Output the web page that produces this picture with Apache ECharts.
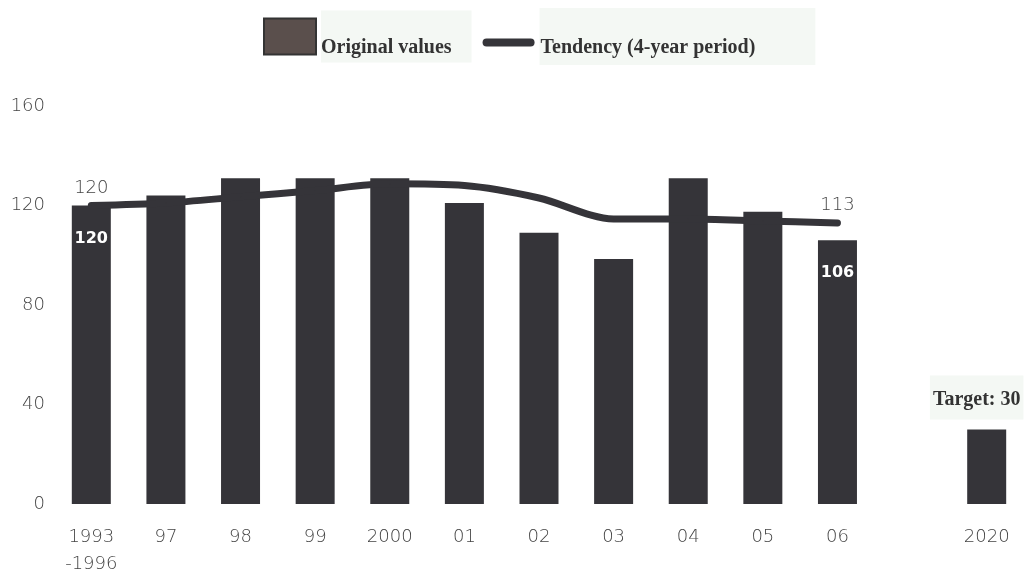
<!DOCTYPE html>
<html>
<head>
<meta charset="utf-8">
<script src="https://cdn.jsdelivr.net/npm/echarts@6/dist/echarts.min.js"></script>
<style>
  html, body { margin: 0; padding: 0; background: #fff; }
  #chart { width: 1024px; height: 572px; }
</style>
</head>
<body>
<div id="chart"></div>
<script>
// categories (one empty slot before the 2020 target)
var categories = ['1993\n-1996', '97', '98', '99', '2000', '01', '02', '03', '04', '05', '06', '', '2020'];
// original values
var originalValues = [120, 124, 131, 131, 131, 121, 109, 98.5, 131, 117.5, 106, '-', 30];
// tendency (4-year period)
var tendencyValues = [120, 121, 123.5, 126, 128.7, 128, 123, 114.6, 114.6, 113.8, 113, '-', '-'];
var yTicks = [0, 40, 80, 120, 160];

var dark = '#353439';
var numFont = 'DejaVu Sans';
var serifFont = 'Liberation Serif';

var chartDom = document.getElementById('chart');
var myChart = echarts.init(chartDom);
var option;

var barData = originalValues.map(function (v, i) {
  if (i === 0 || i === 10) {
    return {
      value: v,
      label: {
        show: true, position: 'insideTop', distance: 25,
        color: '#fff', fontFamily: 'DejaVu Sans', fontWeight: 'bold', fontSize: 16
      }
    };
  }
  if (i === categories.length - 1) {
    return {
      value: v,
      label: {
        show: true, position: 'top', distance: 10, offset: [-10, 0],
        formatter: 'Target: {c}',
        color: '#333', fontFamily: serifFont, fontWeight: 'bold', fontSize: 20,
        backgroundColor: '#f4f8f4', padding: [14, 3, 10, 3]
      }
    };
  }
  return v;
});

var lineData = tendencyValues.map(function (v, i) {
  if (i === 0 || i === 10) {
    return {
      value: v,
      label: {
        show: true, position: 'top', distance: 8,
        formatter: function (p) { return Math.round(p.value); },
        color: '#444', fontFamily: numFont, fontWeight: 200, fontSize: 18
      }
    };
  }
  return v;
});

option = {
  animation: false,
  legend: {
    left: 263,
    top: 8,
    padding: 0,
    itemWidth: 52,
    itemHeight: 36,
    itemGap: 11,
    selectedMode: false,
    formatter: function (name) {
      return '{gap|}\n{t|' + name + '}';
    },
    textStyle: {
      backgroundColor: '#f4f8f4',
      rich: {
        gap: { height: 22, fontSize: 1 },
        t: { color: '#333', fontFamily: serifFont, fontWeight: 'bold', fontSize: 20, height: 24 }
      }
    },
    data: [
      {
        name: 'Original values',
        icon: 'rect',
        itemStyle: { color: '#5a4f4c', borderColor: '#333', borderWidth: 2 },
        textStyle: { padding: [3, 20, 3, 0] }
      },
      {
        name: 'Tendency (4-year period)',
        icon: 'path://M0,0 M52,36 M4,20 H48 A4,4 0 0 1 48,28 H4 A4,4 0 0 1 4,20 Z',
        itemStyle: { color: dark },
        textStyle: { padding: [6, 60, 5, 1] }
      }
    ]
  },
  grid: {
    left: 54,
    right: 0,
    top: 106,
    bottom: 68,
    outerBoundsMode: 'none'
  },
  xAxis: {
    type: 'category',
    data: categories,
    axisLine: { show: false },
    axisTick: { show: false },
    axisLabel: {
      margin: 20,
      color: '#444',
      fontFamily: numFont,
      fontWeight: 200,
      fontSize: 18,
      lineHeight: 27,
      interval: 0
    }
  },
  yAxis: {
    type: 'value',
    min: yTicks[0],
    max: yTicks[yTicks.length - 1],
    interval: 40,
    splitLine: { show: false },
    axisLine: { show: false },
    axisTick: { show: false },
    axisLabel: {
      margin: 9,
      color: '#444',
      fontFamily: numFont,
      fontWeight: 200,
      fontSize: 18
    }
  },
  series: [
    {
      name: 'Original values',
      type: 'bar',
      barWidth: 39,
      itemStyle: { color: dark },
      data: barData
    },
    {
      name: 'Tendency (4-year period)',
      type: 'line',
      smooth: 0.3,
      symbol: 'circle',
      symbolSize: 1,
      showSymbol: true,
      lineStyle: { color: dark, width: 7, cap: 'round' },
      itemStyle: { color: dark },
      z: 3,
      data: lineData
    }
  ]
};

option && myChart.setOption(option);
</script>
</body>
</html>
